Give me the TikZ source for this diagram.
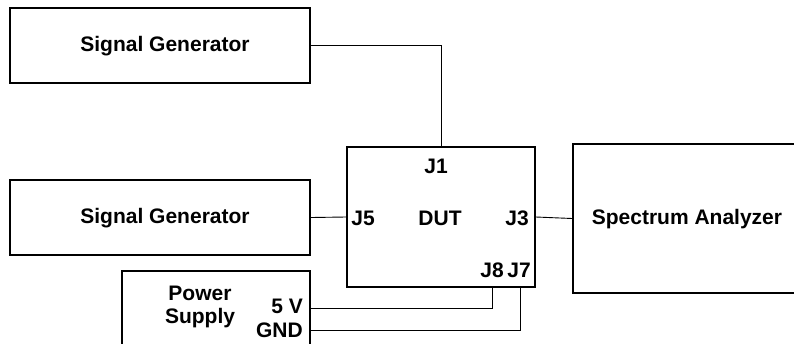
\documentclass[tikz,border=0pt]{standalone}
\usepackage{fontspec}
\setmainfont{Liberation Sans}
\usetikzlibrary{positioning}

\begin{document}
\begin{tikzpicture}[
      x=1pt,y=-1pt,
      mybox/.style={
         rectangle,
         draw=black,
         line width=1.8pt,
         inner sep=0pt},
      mylabel/.style={
         inner sep=0pt,
         font=\bfseries\fontsize{21}{23}\selectfont},
      mywire/.style={line width=0.9pt}
      ]
      \useasboundingbox (0,0) rectangle (794,343);
      \node[mybox,minimum width=300pt,minimum height=75pt] (gen1) at (160,45.5) {};
      \node[mybox,minimum width=300pt,minimum height=75pt] (gen2) at (160,217.5) {};
      \node[mybox,minimum width=188pt,minimum height=140pt] (dut) at (441,217) {};
      \node[mybox,minimum width=223pt,minimum height=149pt] (analyzer) at (684.5,218.5) {};
      \node[mybox,minimum width=188pt,minimum height=90pt] (supply) at (216,316) {};

      \node[mylabel] (gen1txt) at (165,46) {Signal Generator};
      \node[mylabel] (gen2txt) at (165,218) {Signal Generator};
      \node[mylabel] (anatxt) at (687,219) {Spectrum Analyzer};
      \node[mylabel,align=center] (suptxt) at (200,307) {Power\\Supply};
      \node[mylabel,anchor=east] (vcc) at (303,306) {5 V};
      \node[mylabel,anchor=east] (gnd) at (303,330) {GND};

      \node[mylabel] (duttxt) at (440,218) {DUT};
      \node[mylabel] (j1) at (436,166) {J1};
      \node[mylabel] (j5) at (363,218) {J5};
      \node[mylabel] (j3) at (517,218) {J3};
      \node[mylabel] (j8) at (492,270) {J8};
      \node[mylabel] (j7) at (519,270) {J7};

      \coordinate (p8) at (492,287);
      \coordinate (p7) at (520,287);
      \coordinate (s8) at (310,308);
      \coordinate (s7) at (310,330);

    \draw[mywire] (gen1.east) -| (dut.north);
    \foreach \i/\j in {% start node/end node
      gen2/dut,
      dut/analyzer}
       \draw[mywire] (\i.east) -- (\j.west);
    \foreach \i/\j in {s8/p8, s7/p7}
       \draw[mywire] (\i) -| (\j);

    \end{tikzpicture}
\end{document}
